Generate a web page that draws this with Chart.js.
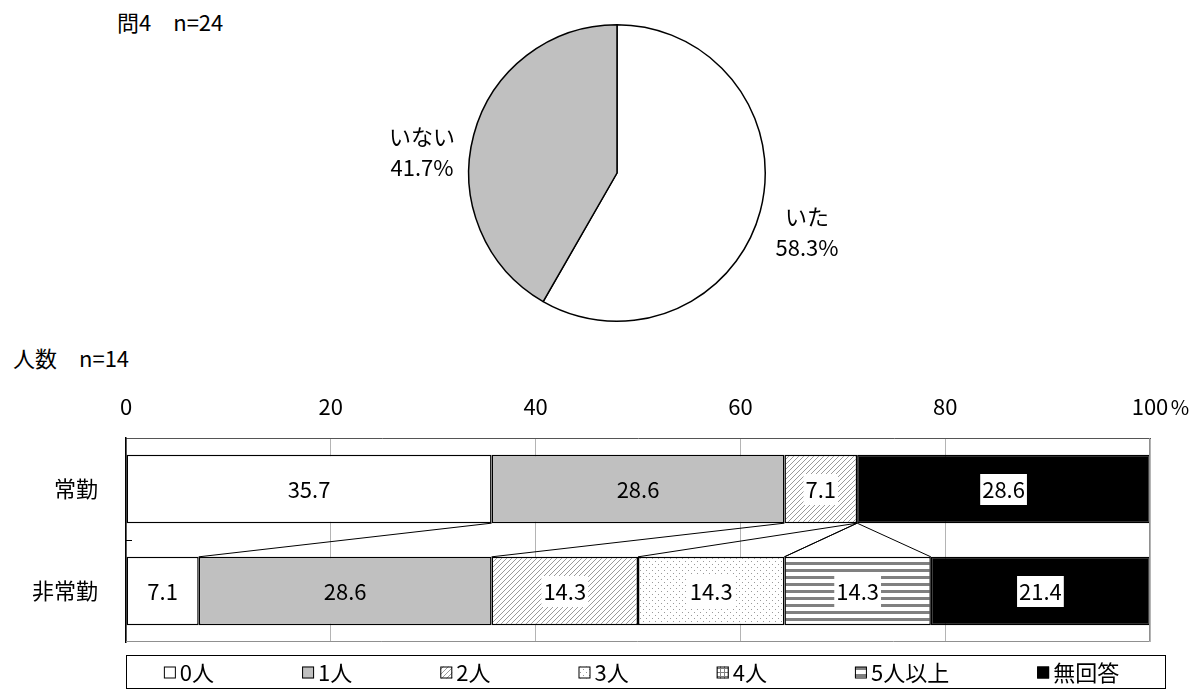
<!DOCTYPE html>
<html lang="ja">
<head>
<meta charset="utf-8">
<script src="https://cdn.jsdelivr.net/npm/chart.js@4.4.1/dist/chart.umd.min.js"></script>
<style>
  html, body { margin: 0; padding: 0; background: #fff; }
  body { width: 1199px; height: 695px; position: relative; overflow: hidden; font-family: "Noto Sans CJK JP", sans-serif; }
  .title { position: absolute; font-size: 22px; line-height: 22px; color: #000; white-space: pre; }
  #pieBox { position: absolute; left: 350px; top: 0; width: 550px; height: 340px; }
  #barBox { position: absolute; left: 0; top: 380px; width: 1199px; height: 315px; }
</style>
</head>
<body>
<div class="title" style="left:117px;top:10px">問4　n=24</div>
<div class="title" style="left:13px;top:346px">人数　n=14</div>
<div id="pieBox"><canvas id="pieChart"></canvas></div>
<div id="barBox"><canvas id="barChart"></canvas></div>
<script>
const FONT = '"Noto Sans CJK JP", "Noto Sans", sans-serif';

// pie: 問4
const pieLabels = ['いた', 'いない'];
const pieValues = [58.3, 41.7];

// stacked bar: 人数
const categories = ['常勤', '非常勤'];
const seriesNames = ['0人', '1人', '2人', '3人', '4人', '5人以上', '無回答'];
const zeroPeople = [35.7, 7.1];
const onePerson = [28.6, 28.6];
const twoPeople = [7.1, 14.3];
const threePeople = [0, 14.3];
const fourPeople = [0, 0];
const fivePlus = [0, 14.3];
const noAnswer = [28.6, 21.4];
const xTicks = [0, 20, 40, 60, 80, 100];

function makePattern(kind) {
  const c = document.createElement('canvas');
  const g = c.getContext('2d');
  if (kind === 'hatch') {
    c.width = c.height = 5;
    g.fillStyle = '#fff'; g.fillRect(0, 0, 5, 5);
    g.strokeStyle = '#9a9a9a'; g.lineWidth = 1;
    g.beginPath();
    g.moveTo(-1, 6); g.lineTo(6, -1);
    g.moveTo(-1, 1); g.lineTo(1, -1);
    g.moveTo(4, 6); g.lineTo(6, 4);
    g.stroke();
  } else if (kind === 'dots') {
    c.width = c.height = 6;
    g.fillStyle = '#fff'; g.fillRect(0, 0, 6, 6);
    g.fillStyle = '#9a9a9a';
    g.fillRect(1, 1, 1, 1); g.fillRect(4, 4, 1, 1);
  } else if (kind === 'grid') {
    c.width = c.height = 4;
    g.fillStyle = '#fff'; g.fillRect(0, 0, 4, 4);
    g.fillStyle = '#808080';
    g.fillRect(0, 0, 4, 1); g.fillRect(0, 0, 1, 4);
  } else if (kind === 'stripes') {
    c.width = 4; c.height = 7;
    g.fillStyle = '#fff'; g.fillRect(0, 0, 4, 7);
    g.fillStyle = '#808080'; g.fillRect(0, 0, 4, 3);
  }
  return g.createPattern(c, 'repeat');
}

const fills = ['#ffffff', '#c0c0c0', makePattern('hatch'), makePattern('dots'),
  makePattern('grid'), makePattern('stripes'), '#000000'];
const boxed = [false, false, true, true, true, true, true];
const seriesData = [zeroPeople, onePerson, twoPeople, threePeople, fourPeople, fivePlus, noAnswer];

// ---------- pie ----------
const pieLabelPlugin = {
  id: 'pieLabels',
  afterDraw(chart) {
    const ctx = chart.ctx;
    const arcs = chart.getDatasetMeta(0).data;
    const offsets = [[190, 44], [-195, -36]];
    ctx.save();
    ctx.font = '22px ' + FONT;
    ctx.fillStyle = '#000';
    ctx.textAlign = 'center';
    ctx.textBaseline = 'middle';
    arcs.forEach((arc, i) => {
      const x = arc.x + offsets[i][0];
      const y = arc.y + offsets[i][1];
      ctx.fillText(pieLabels[i], x, y);
      ctx.fillText(pieValues[i].toFixed(1) + '%', x, y + 31);
    });
    ctx.restore();
  }
};

new Chart(document.getElementById('pieChart'), {
  type: 'pie',
  data: {
    labels: pieLabels,
    datasets: [{
      data: pieValues,
      backgroundColor: ['#ffffff', '#c0c0c0'],
      borderColor: '#000',
      borderWidth: 1.5
    }]
  },
  options: {
    responsive: true,
    maintainAspectRatio: false,
    animation: false,
    events: [],
    layout: { padding: { top: 24, bottom: 18, left: 0, right: 16 } },
    plugins: { legend: { display: false }, tooltip: { enabled: false } }
  },
  plugins: [pieLabelPlugin]
});

// ---------- bar ----------
const barExtras = {
  id: 'barExtras',
  beforeDatasetsDraw(chart) {
    // series lines between the two bars
    const ctx = chart.ctx;
    const xs = chart.scales.x;
    const meta = chart.getDatasetMeta(0);
    const top = meta.data[0];
    const bot = meta.data[1];
    const y0 = top.y + top.height / 2;
    const y1 = bot.y - bot.height / 2;
    let c0 = 0, c1 = 0;
    ctx.save();
    ctx.strokeStyle = '#000';
    ctx.lineWidth = 1;
    for (let i = 0; i < seriesData.length - 1; i++) {
      c0 += seriesData[i][0];
      c1 += seriesData[i][1];
      ctx.beginPath();
      ctx.moveTo(xs.getPixelForValue(c0), y0);
      ctx.lineTo(xs.getPixelForValue(c1), y1);
      ctx.stroke();
    }
    ctx.restore();
  },
  afterDatasetsDraw(chart) {
    const ctx = chart.ctx;
    ctx.save();
    ctx.font = '22px ' + FONT;
    ctx.textAlign = 'center';
    ctx.textBaseline = 'middle';
    chart.data.datasets.forEach((ds, di) => {
      chart.getDatasetMeta(di).data.forEach((bar, i) => {
        const v = ds.data[i];
        if (!v) return;
        const cx = (bar.x + bar.base) / 2;
        const txt = v.toFixed(1);
        if (boxed[di]) {
          const w = ctx.measureText(txt).width + 4;
          ctx.fillStyle = '#fff';
          ctx.fillRect(cx - w / 2, bar.y - 15, w, 31);
        }
        ctx.fillStyle = '#000';
        ctx.fillText(txt, cx, bar.y + 1);
      });
    });
    ctx.restore();
  },
  afterDraw(chart) {
    const ctx = chart.ctx;
    const a = chart.chartArea;
    const xs = chart.scales.x;
    const ys = chart.scales.y;
    ctx.save();
    // frame right / bottom
    ctx.strokeStyle = '#909090';
    ctx.lineWidth = 1;
    ctx.beginPath();
    ctx.moveTo(a.right - 0.5, a.top);
    ctx.lineTo(a.right - 0.5, a.bottom - 0.5);
    ctx.lineTo(a.left, a.bottom - 0.5);
    ctx.stroke();
    // category boundary tick
    const yb = Math.round((ys.getPixelForTick(0) + ys.getPixelForTick(1)) / 2) + 0.5;
    ctx.strokeStyle = '#000';
    ctx.beginPath();
    ctx.moveTo(a.left, yb);
    ctx.lineTo(a.left + 6, yb);
    ctx.stroke();
    // % unit
    ctx.font = '20px ' + FONT;
    ctx.fillStyle = '#000';
    ctx.textAlign = 'center';
    ctx.textBaseline = 'middle';
    ctx.fillText('%', xs.getPixelForValue(100) + 30, 27);
    // legend
    const lx = a.left, rx = a.right + 15, ty = a.bottom + 13, h = 33;
    ctx.strokeStyle = '#000';
    ctx.strokeRect(lx + 0.5, ty + 0.5, rx - lx, h);
    ctx.font = '22px ' + FONT;
    ctx.textAlign = 'left';
    const box = 12, gap = 4, pad = 88;
    const widths = seriesNames.map(t => box + gap + ctx.measureText(t).width);
    const total = widths.reduce((s, w) => s + w, 0) + pad * (widths.length - 1);
    let x = (lx + rx) / 2 - total / 2 - 4;
    const cy = ty + h / 2 + 1;
    seriesNames.forEach((t, i) => {
      ctx.fillStyle = fills[i];
      ctx.fillRect(x, cy - box / 2, box, box);
      ctx.strokeStyle = '#000';
      ctx.strokeRect(x + 0.5, cy - box / 2 + 0.5, box - 1, box - 1);
      ctx.fillStyle = '#000';
      ctx.fillText(t, x + box + gap, cy);
      x += widths[i] + pad;
    });
    ctx.restore();
  }
};

new Chart(document.getElementById('barChart'), {
  type: 'bar',
  data: {
    labels: categories,
    datasets: seriesNames.map((name, i) => ({
      label: name,
      data: seriesData[i],
      backgroundColor: fills[i],
      borderColor: '#000',
      borderWidth: 1.5,
      borderSkipped: false,
      barPercentage: 0.67,
      categoryPercentage: 1
    }))
  },
  options: {
    indexAxis: 'y',
    responsive: true,
    maintainAspectRatio: false,
    animation: false,
    events: [],
    layout: { padding: { top: 0, left: 0, right: 49, bottom: 53 } },
    scales: {
      x: {
        position: 'top',
        stacked: true,
        min: 0,
        max: 100,
        afterBuildTicks(scale) { scale.ticks = xTicks.map(v => ({ value: v })); },
        afterFit(scale) { scale.height = 58; },
        grid: { color: '#b4b4b4', drawTicks: false },
        border: { color: '#555555', width: 1 },
        ticks: { color: '#000', font: { family: FONT, size: 22 }, padding: 18, maxRotation: 0 }
      },
      y: {
        stacked: true,
        afterFit(scale) { scale.width = 126; },
        grid: { display: false },
        border: { color: '#000', width: 1.5 },
        ticks: { color: '#000', font: { family: FONT, size: 22 }, padding: 20 }
      }
    },
    plugins: { legend: { display: false }, tooltip: { enabled: false } }
  },
  plugins: [barExtras]
});
</script>
</body>
</html>
